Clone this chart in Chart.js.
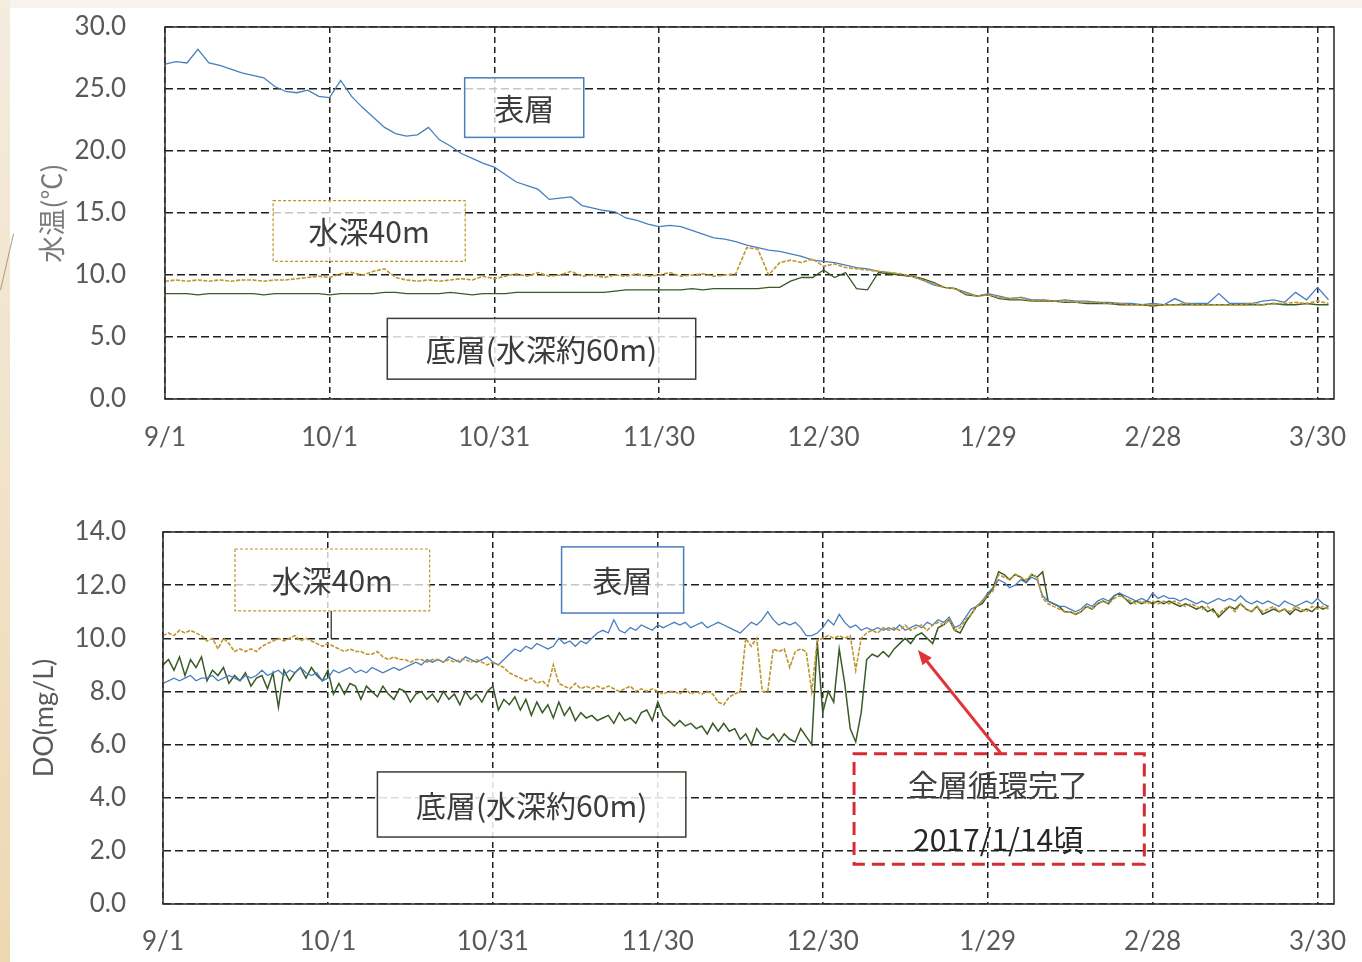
<!DOCTYPE html>
<html lang="ja">
<head>
<meta charset="utf-8">
<title>水温・DO</title>
<script src="https://cdn.jsdelivr.net/npm/chart.js@4.4.1/dist/chart.umd.min.js"></script>
<style>
  html, body { margin: 0; padding: 0; background: #fff; }
  body { width: 1362px; height: 962px; position: relative; overflow: hidden; }
  #topband { position: absolute; left: 0; top: 0; width: 1362px; height: 8px; background: #f6f2ec; }
  #leftband { position: absolute; left: 0; top: 0; width: 10px; height: 962px;
              background: linear-gradient(to bottom, #f4ecdf, #eed8b2); }
  #deco { position: absolute; left: 0; top: 290px; width: 58px; height: 1px; background: #b49a78;
          transform-origin: 0 0; transform: rotate(-77deg); }
  canvas { position: absolute; left: 0; }
  #tempChart { top: 0; }
  #doChart { top: 470px; }
</style>
</head>
<body>
<div id="topband"></div>
<div id="leftband"></div>
<div id="deco"></div>
<canvas id="tempChart" width="1362" height="460"></canvas>
<canvas id="doChart" width="1362" height="492"></canvas>
<script>
// x axis: days since 9/1
const tickDays = [0, 30, 60, 90, 120, 150, 180, 210];
const tickLabels = ['9/1', '10/1', '10/31', '11/30', '12/30', '1/29', '2/28', '3/30'];

// water temperature, one reading every 2 days
const tempStep = 2;
const tempSurface = [
  27.0, 27.2, 27.1, 28.2, 27.1, 26.9, 26.6, 26.3, 26.1, 25.9,
  25.2, 24.8, 24.7, 24.9, 24.4, 24.3, 25.7, 24.4, 23.5, 22.7,
  21.9, 21.4, 21.2, 21.3, 21.9, 20.9, 20.4, 19.8, 19.4, 19.0,
  18.7, 18.1, 17.5, 17.2, 16.9, 16.1, 16.2, 16.3, 15.6, 15.4,
  15.2, 15.1, 14.6, 14.4, 14.1, 13.9, 14.0, 13.9, 13.6, 13.3,
  13.0, 12.9, 12.7, 12.4, 12.2, 12.0, 11.9, 11.7, 11.5, 11.2,
  11.1, 11.0, 10.8, 10.6, 10.5, 10.3, 10.2, 10.0, 9.9, 9.6,
  9.2, 9.0, 8.9, 8.6, 8.3, 8.5, 8.3, 8.1, 8.2, 8.0,
  8.0, 7.9, 8.0, 7.9, 7.9, 7.8, 7.8, 7.7, 7.7, 7.6,
  7.7, 7.6, 8.1, 7.7, 7.7, 7.7, 8.5, 7.7, 7.7, 7.7,
  7.9, 8.0, 7.8, 8.6, 8.0, 9.0, 8.0
];
const temp40m = [
  9.5, 9.6, 9.5, 9.6, 9.5, 9.6, 9.5, 9.6, 9.6, 9.5,
  9.6, 9.6, 9.7, 9.8, 9.9, 9.8, 10.1, 10.2, 10.0, 10.3,
  10.5, 9.8, 9.6, 9.5, 9.6, 9.5, 9.6, 9.7, 9.6, 9.9,
  9.7, 9.9, 10.1, 9.9, 10.2, 9.9, 10.0, 10.3, 9.9, 10.0,
  9.8, 10.0, 9.9, 10.1, 9.9, 10.0, 10.2, 9.9, 10.0, 10.1,
  9.9, 10.0, 10.1, 12.2, 12.1, 10.0, 11.0, 11.2, 11.0, 11.3,
  10.7, 10.9, 10.6, 10.5, 10.4, 10.3, 10.2, 10.1, 9.9, 9.6,
  9.3, 9.0, 8.9, 8.5, 8.3, 8.4, 8.2, 8.1, 8.2, 7.9,
  8.0, 7.9, 7.9, 7.8, 7.8, 7.8, 7.7, 7.7, 7.6, 7.6,
  7.6, 7.6, 7.6, 7.7, 7.6, 7.6, 7.6, 7.6, 7.6, 7.7,
  7.6, 7.7, 7.7, 7.8, 7.7, 7.9, 7.7
];
const tempBottom = [
  8.5, 8.5, 8.5, 8.4, 8.5, 8.5, 8.5, 8.5, 8.5, 8.4,
  8.5, 8.5, 8.5, 8.5, 8.5, 8.4, 8.5, 8.5, 8.5, 8.5,
  8.6, 8.6, 8.5, 8.5, 8.5, 8.5, 8.6, 8.5, 8.4, 8.5,
  8.5, 8.5, 8.6, 8.6, 8.6, 8.6, 8.6, 8.6, 8.6, 8.6,
  8.6, 8.7, 8.8, 8.8, 8.8, 8.8, 8.8, 8.8, 8.9, 8.8,
  8.9, 8.9, 8.9, 8.9, 8.9, 9.0, 9.0, 9.5, 9.8, 9.8,
  10.4, 9.8, 10.2, 8.9, 8.8, 10.2, 10.1, 10.0, 9.9, 9.7,
  9.4, 9.0, 8.9, 8.4, 8.3, 8.4, 8.1, 8.0, 8.0, 7.9,
  7.9, 7.9, 7.8, 7.8, 7.7, 7.7, 7.7, 7.6, 7.6, 7.6,
  7.5, 7.6, 7.6, 7.6, 7.6, 7.6, 7.6, 7.6, 7.6, 7.6,
  7.6, 7.7, 7.6, 7.6, 7.7, 7.6, 7.6
];

// dissolved oxygen, one reading per day
const doStep = 1;
const doSurface = [
  8.3, 8.4, 8.5, 8.4, 8.5, 8.6, 8.4, 8.5, 8.5, 8.6,
  8.4, 8.5, 8.6, 8.5, 8.4, 8.6, 8.5, 8.6, 8.8, 8.6,
  8.7, 8.8, 8.6, 8.8, 8.7, 8.9, 8.7, 8.6, 8.7, 8.4,
  8.5, 8.8, 8.7, 8.8, 8.9, 8.7, 8.8, 8.7, 8.9, 8.8,
  8.7, 8.8, 8.9, 8.8, 8.9, 9.0, 9.1, 9.0, 9.2, 9.1,
  9.2, 9.1, 9.3, 9.2, 9.1, 9.3, 9.2, 9.1, 9.2, 9.3,
  9.1, 9.0, 9.2, 9.4, 9.6, 9.5, 9.7, 9.6, 9.8, 9.7,
  9.6, 9.7, 10.0, 9.8, 9.9, 9.7, 9.9, 9.8, 10.0, 10.2,
  10.3, 10.2, 10.7, 10.3, 10.2, 10.4, 10.3, 10.5, 10.4, 10.3,
  10.5, 10.4, 10.5, 10.6, 10.5, 10.6, 10.4, 10.5, 10.6, 10.4,
  10.5, 10.6, 10.5, 10.4, 10.3, 10.2, 10.4, 10.6, 10.5, 10.7,
  11.0, 10.7, 10.5, 10.6, 10.5, 10.6, 10.4, 10.1, 10.1, 10.2,
  10.4, 10.7, 10.5, 10.9, 10.6, 10.4, 10.5, 10.3, 10.4, 10.3,
  10.4, 10.3, 10.4, 10.3, 10.5, 10.3, 10.4, 10.5, 10.4, 10.6,
  10.5, 10.7, 10.6, 10.8, 10.4, 10.5, 10.8, 11.1, 11.2, 11.4,
  11.7, 11.9, 12.2, 12.1, 11.9, 12.0, 12.2, 12.1, 12.3, 12.2,
  11.6, 11.4, 11.3, 11.2, 11.2, 11.1, 11.0, 11.1, 11.3, 11.2,
  11.4, 11.5, 11.4, 11.6, 11.7, 11.6, 11.5, 11.4, 11.5, 11.4,
  11.7, 11.5, 11.6, 11.5, 11.5, 11.4, 11.5, 11.4, 11.3, 11.4,
  11.3, 11.4, 11.5, 11.4, 11.5, 11.4, 11.6, 11.4, 11.3, 11.4,
  11.3, 11.4, 11.3, 11.2, 11.4, 11.3, 11.2, 11.3, 11.4, 11.3,
  11.5, 11.3, 11.2
];
const do40m = [
  10.1, 10.2, 10.1, 10.3, 10.2, 10.3, 10.2, 10.1, 9.9, 10.0,
  9.6, 10.0, 9.8, 9.5, 9.6, 9.5, 9.6, 9.5, 9.7, 9.8,
  9.9, 10.0, 9.9, 10.0, 10.1, 9.9, 10.0, 9.9, 9.8, 9.7,
  9.8, 9.7, 9.6, 9.5, 9.6, 9.5, 9.5, 9.4, 9.4, 9.5,
  9.3, 9.2, 9.3, 9.2, 9.2, 9.1, 9.2, 9.2, 9.1, 9.2,
  9.2, 9.1, 9.2, 9.1, 9.2, 9.2, 9.1, 9.2, 9.1, 9.0,
  9.1, 9.0, 8.9, 8.7, 8.6, 8.5, 8.4, 8.5, 8.3, 8.4,
  8.2, 9.0, 8.3, 8.2, 8.1, 8.3, 8.1, 8.2, 8.1, 8.2,
  8.1, 8.2, 8.1, 8.0, 8.1, 8.2, 8.0, 8.1, 8.0, 8.1,
  8.0, 7.9, 8.0, 8.0, 7.9, 8.1, 7.9, 8.0, 7.9, 8.0,
  7.9, 7.6, 7.5, 7.8, 7.9, 8.0, 10.0, 9.7, 10.0, 8.0,
  8.0, 9.6, 9.5, 9.6, 8.9, 9.5, 9.6, 9.5, 8.0, 9.9,
  10.0, 10.1, 10.0, 10.1, 10.0, 10.1, 8.8, 10.0, 10.2, 10.3,
  10.2, 10.4, 10.3, 10.4, 10.3, 10.5, 10.3, 10.4, 10.5, 10.3,
  10.5, 10.6, 10.5, 10.7, 10.3, 10.4, 10.7, 10.9, 11.2, 11.4,
  11.6, 11.8, 12.4, 12.3, 12.2, 12.4, 12.3, 12.2, 12.4, 12.3,
  11.5, 11.3, 11.2, 11.1, 11.0, 11.0, 10.9, 11.0, 11.2, 11.1,
  11.3, 11.4, 11.3, 11.5, 11.6, 11.5, 11.4, 11.3, 11.4, 11.3,
  11.4, 11.3, 11.4, 11.3, 11.4, 11.3, 11.2, 11.3, 11.2, 11.1,
  11.2, 11.0, 10.9, 11.1, 11.2, 11.0, 11.3, 11.1, 11.0, 11.2,
  11.0, 11.1, 11.2, 11.0, 11.1, 11.0, 11.2, 11.1, 11.0, 11.2,
  11.1, 11.2, 11.1
];
const doBottom = [
  9.0, 9.2, 8.8, 9.3, 8.6, 9.2, 8.9, 9.3, 8.4, 8.8,
  8.6, 8.9, 8.3, 8.6, 8.4, 8.7, 8.2, 8.5, 8.6, 8.1,
  8.7, 7.4, 8.8, 8.4, 8.7, 8.9, 8.5, 8.9, 8.6, 8.4,
  8.8, 7.9, 8.3, 7.9, 8.3, 8.2, 7.7, 8.2, 8.0, 7.8,
  8.2, 7.9, 7.7, 8.1, 8.0, 7.6, 7.9, 8.0, 7.7, 7.9,
  7.6, 8.0, 7.7, 7.9, 7.5, 8.0, 7.7, 7.9, 7.6, 8.0,
  8.2, 7.3, 7.7, 7.5, 7.8, 7.3, 7.7, 7.1, 7.6, 7.2,
  7.5, 7.0, 7.6, 7.1, 7.4, 6.9, 7.2, 7.0, 7.1, 6.9,
  7.0, 7.1, 6.8, 7.2, 6.9, 7.0, 6.8, 7.2, 7.3, 6.9,
  7.6, 7.1, 6.9, 6.7, 6.9, 6.7, 6.8, 6.6, 6.7, 6.4,
  6.8, 6.5, 6.8, 6.5, 6.6, 6.2, 6.4, 6.0, 6.6, 6.3,
  6.2, 6.4, 6.1, 6.4, 6.2, 6.1, 6.6, 6.3, 6.0, 9.9,
  7.2, 8.0, 7.6, 9.6, 8.3, 6.6, 6.1, 7.2, 9.2, 9.4,
  9.3, 9.5, 9.3, 9.6, 9.8, 10.0, 9.8, 10.1, 10.2, 10.0,
  9.8, 10.4, 10.5, 10.7, 10.3, 10.2, 10.6, 10.9, 11.2, 11.3,
  11.6, 11.9, 12.5, 12.4, 12.2, 12.4, 12.3, 12.1, 12.4, 12.3,
  12.5, 11.4, 11.3, 11.2, 11.0, 11.0, 10.9, 11.0, 11.2, 11.1,
  11.3, 11.4, 11.3, 11.6, 11.7, 11.5, 11.3, 11.4, 11.3, 11.4,
  11.3, 11.4, 11.3, 11.4, 11.3, 11.2, 11.3, 11.2, 11.1, 11.2,
  11.0, 11.1, 10.8, 11.0, 11.2, 11.1, 11.3, 11.1, 11.0, 11.2,
  10.9, 11.0, 11.1, 11.0, 11.1, 10.9, 11.1, 11.0, 11.1, 11.0,
  11.2, 11.1, 11.2
];

const seriesNames = ['表層', '水深40m', '底層(水深約60m)'];

function toPoints(values, step) {
  return values.map((v, i) => ({ x: i * step, y: v }));
}

Chart.defaults.font.family = 'Lato';
Chart.defaults.color = '#595959';

const jpFont = '"Noto Sans CJK JP"';
const BLUE = '#4a7ebf', GOLD = '#bf952c', GREEN = '#3a5a28';

// solid frame round the plot area
const framePlugin = {
  id: 'frame',
  afterDraw(chart) {
    const { ctx, chartArea: a } = chart;
    ctx.save();
    ctx.setLineDash([]);
    ctx.strokeStyle = '#333';
    ctx.lineWidth = 1.6;
    ctx.strokeRect(a.left, a.top, a.right - a.left, a.bottom - a.top);
    ctx.restore();
  }
};

// callout boxes, texts and arrows, placed in data units
function makeNotes(notes) {
  return {
    id: 'notes',
    afterDatasetsDraw(chart) {
      const { ctx, scales: { x, y } } = chart;
      ctx.save();
      (notes.lines || []).forEach(l => {
        ctx.setLineDash([]);
        ctx.strokeStyle = l.stroke;
        ctx.lineWidth = l.lw;
        ctx.beginPath();
        ctx.moveTo(x.getPixelForValue(l.x0), y.getPixelForValue(l.y0));
        ctx.lineTo(x.getPixelForValue(l.x1), y.getPixelForValue(l.y1));
        ctx.stroke();
      });
      (notes.boxes || []).forEach(b => {
        const left = x.getPixelForValue(b.x0), right = x.getPixelForValue(b.x1);
        const top = y.getPixelForValue(b.y0), bottom = y.getPixelForValue(b.y1);
        if (b.bg) {
          ctx.fillStyle = b.bg;
          ctx.fillRect(left, top, right - left, bottom - top);
        }
        ctx.setLineDash(b.dash || []);
        ctx.strokeStyle = b.stroke;
        ctx.lineWidth = b.lw;
        ctx.strokeRect(left, top, right - left, bottom - top);
        if (b.text) {
          ctx.setLineDash([]);
          ctx.fillStyle = '#3c3c3c';
          ctx.font = '30px ' + jpFont;
          ctx.textAlign = 'center';
          ctx.textBaseline = 'middle';
          ctx.fillText(b.text, (left + right) / 2, (top + bottom) / 2 + 1);
        }
      });
      (notes.texts || []).forEach(t => {
        ctx.fillStyle = t.ink;
        ctx.font = '30px ' + jpFont;
        ctx.textAlign = 'center';
        ctx.textBaseline = 'middle';
        ctx.fillText(t.text, x.getPixelForValue(t.x), y.getPixelForValue(t.y));
      });
      (notes.arrows || []).forEach(a => {
        const x0 = x.getPixelForValue(a.x0), y0 = y.getPixelForValue(a.y0);
        const x1 = x.getPixelForValue(a.x1), y1 = y.getPixelForValue(a.y1);
        const ang = Math.atan2(y1 - y0, x1 - x0);
        const head = 16;
        ctx.setLineDash([]);
        ctx.strokeStyle = a.stroke;
        ctx.fillStyle = a.stroke;
        ctx.lineWidth = a.lw;
        ctx.beginPath();
        ctx.moveTo(x0, y0);
        ctx.lineTo(x1 - Math.cos(ang) * head * 0.8, y1 - Math.sin(ang) * head * 0.8);
        ctx.stroke();
        ctx.beginPath();
        ctx.moveTo(x1, y1);
        ctx.lineTo(x1 - head * Math.cos(ang - 0.38), y1 - head * Math.sin(ang - 0.38));
        ctx.lineTo(x1 - head * Math.cos(ang + 0.38), y1 - head * Math.sin(ang + 0.38));
        ctx.closePath();
        ctx.fill();
      });
      ctx.restore();
    }
  };
}

function xScale(height, padding) {
  return {
    type: 'linear',
    min: 0,
    max: 213,
    afterBuildTicks: s => { s.ticks = tickDays.map(v => ({ value: v })); },
    afterFit: s => {
      s.height = height;
      s.paddingLeft = 0;
      s.paddingRight = 0;
    },
    ticks: {
      autoSkip: false,
      maxRotation: 0,
      padding: padding,
      color: '#595959',
      font: { size: 26 },
      callback: (v, i) => tickLabels[i]
    },
    grid: { color: '#1f1f1f', lineWidth: 1.5, drawTicks: false },
    border: { display: false, dash: [6, 4] }
  };
}

function yScale(max, step, width, padding, title, titleColor, titlePad, titleFont) {
  return {
    min: 0,
    max: max,
    afterFit: s => {
      s.width = width;
      // keep the tick padding from pushing the plot area down
      s.paddingTop = 0;
      s.paddingBottom = 0;
    },
    ticks: {
      stepSize: step,
      padding: padding,
      color: '#595959',
      font: { size: 26 },
      callback: v => v.toFixed(1)
    },
    grid: { color: '#1f1f1f', lineWidth: 1.5, drawTicks: false },
    border: { display: false, dash: [8, 4] },
    title: {
      display: true,
      text: title,
      color: titleColor,
      font: { size: 27, family: titleFont },
      padding: { top: titlePad, bottom: 0 }
    }
  };
}

function lineSet(label, values, step, color, dash, width) {
  return {
    label: label,
    data: toPoints(values, step),
    borderColor: color,
    borderWidth: width || 1.3,
    borderDash: dash || [],
    pointRadius: 0,
    tension: 0,
    fill: false
  };
}

new Chart(document.getElementById('tempChart'), {
  type: 'line',
  data: {
    datasets: [
      lineSet(seriesNames[1], temp40m, tempStep, GOLD, [4, 1.5], 1.6),
      lineSet(seriesNames[2], tempBottom, tempStep, GREEN),
      lineSet(seriesNames[0], tempSurface, tempStep, BLUE)
    ]
  },
  options: {
    responsive: false,
    animation: false,
    layout: { padding: { left: 0, right: 28, top: 27, bottom: 0 } },
    scales: {
      x: xScale(61, 23),
      y: yScale(30, 5, 165, 39, '水温(℃)', '#7a7a7a', 36, jpFont)
    },
    plugins: { legend: { display: false }, tooltip: { enabled: false } }
  },
  plugins: [makeNotes({
    boxes: [
      { x0: 54.6, x1: 76.3, y0: 25.9, y1: 21.1, stroke: BLUE, lw: 1.5,
        bg: 'rgba(255,255,255,0.75)', text: seriesNames[0] },
      { x0: 19.7, x1: 54.7, y0: 16.0, y1: 11.1, stroke: GOLD, lw: 1.2, dash: [3, 2],
        bg: 'rgba(255,255,255,0.75)', text: seriesNames[1] },
      { x0: 40.5, x1: 96.7, y0: 6.5, y1: 1.6, stroke: '#3d3d33', lw: 1.5,
        bg: 'rgba(255,255,255,0.8)', text: seriesNames[2] }
    ]
  }), framePlugin]
});

new Chart(document.getElementById('doChart'), {
  type: 'line',
  data: {
    datasets: [
      lineSet(seriesNames[1], do40m, doStep, GOLD, [4, 1.5], 1.6),
      lineSet(seriesNames[0], doSurface, doStep, BLUE),
      lineSet(seriesNames[2], doBottom, doStep, GREEN, [], 1.5)
    ]
  },
  options: {
    responsive: false,
    animation: false,
    layout: { padding: { left: 0, right: 28, top: 62, bottom: 0 } },
    scales: {
      x: xScale(58, 22),
      y: yScale(14, 2, 163, 37, 'DO(mg/L)', '#595959', 28, 'Lato')
    },
    plugins: { legend: { display: false }, tooltip: { enabled: false } }
  },
  plugins: [makeNotes({
    lines: [
      { x0: 30.6, y0: 11.03, x1: 30.6, y1: 10.0, stroke: '#333', lw: 1.3 }
    ],
    boxes: [
      { x0: 13.1, x1: 48.5, y0: 13.36, y1: 11.03, stroke: GOLD, lw: 1.2, dash: [3, 2],
        bg: 'rgba(255,255,255,0.75)', text: seriesNames[1] },
      { x0: 72.5, x1: 94.7, y0: 13.44, y1: 10.95, stroke: BLUE, lw: 1.5,
        bg: 'rgba(255,255,255,0.75)', text: seriesNames[0] },
      { x0: 39.0, x1: 95.1, y0: 4.97, y1: 2.52, stroke: '#3d3d33', lw: 1.5,
        bg: 'rgba(255,255,255,0.85)', text: seriesNames[2] },
      { x0: 125.7, x1: 178.5, y0: 5.65, y1: 1.5, stroke: '#d62b33', lw: 3, dash: [13, 7] }
    ],
    texts: [
      { x: 151.9, y: 4.48, text: '全層循環完了', ink: '#404040' },
      { x: 151.9, y: 2.41, text: '2017/1/14頃', ink: '#262626' }
    ],
    arrows: [
      { x0: 152.5, y0: 5.65, x1: 137.3, y1: 9.56, stroke: '#e0343a', lw: 3 }
    ]
  }), framePlugin]
});
</script>
</body>
</html>
